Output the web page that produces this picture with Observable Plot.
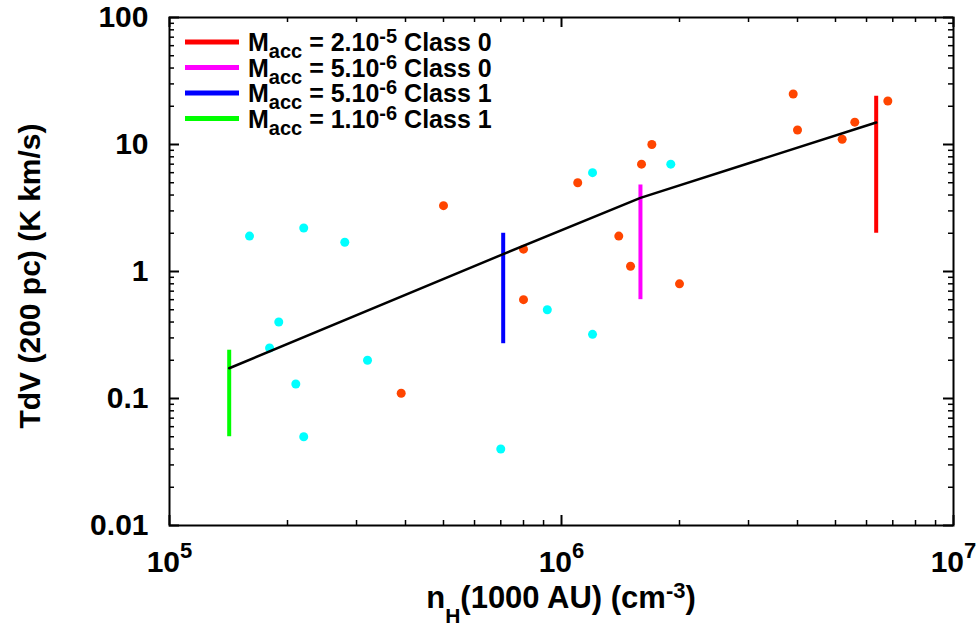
<!DOCTYPE html>
<html>
<head>
<meta charset="utf-8">
<script src="https://cdn.jsdelivr.net/npm/d3@7"></script>
<script src="https://cdn.jsdelivr.net/npm/@observablehq/plot@0.6"></script>
<style>
  body { margin: 0; background: #fff; }
  svg { display: block; }
  text, tspan { white-space: pre; }
</style>
</head>
<body>
<div id="chart"></div>
<script>
// ---- data ----
const cyanX = [1.6e5, 2.2e5, 2.8e5, 1.9e5, 1.8e5, 3.2e5, 2.1e5, 2.2e5, 7.0e5, 9.2e5, 1.2e6, 1.2e6, 1.9e6];
const cyanY = [1.9, 2.2, 1.7, 0.4, 0.25, 0.2, 0.13, 0.05, 0.04, 0.5, 0.32, 6, 7];

const orangeX = [5.0e5, 3.9e5, 8.0e5, 8.0e5, 1.1e6, 1.6e6, 1.7e6, 1.4e6, 1.5e6, 2.0e6, 3.9e6, 4.0e6, 5.2e6, 5.6e6, 6.8e6];
const orangeY = [3.3, 0.11, 1.5, 0.6, 5, 7, 10, 1.9, 1.1, 0.8, 25, 13, 11, 15, 22];

const modelX = [1.42e5, 7.1e5, 1.59e6, 6.35e6];
const modelY = [0.173, 1.37, 3.8, 14.9];

const barX = [6.35e6, 1.59e6, 7.1e5, 1.42e5];
const barLow = [2.0, 0.6, 0.27, 0.05];
const barHigh = [24, 4.8, 2.0, 0.24];
const barColor = ["#ff0000", "#ff00ff", "#0000ff", "#00ff00"];

const legendMacc = ["2.10", "5.10", "5.10", "1.10"];
const legendExp = ["-5", "-6", "-6", "-6"];
const legendClass = ["Class 0", "Class 0", "Class 1", "Class 1"];

const xTicks = [1e5, 1e6, 1e7];
const xTickExp = ["5", "6", "7"];
const yTicks = [0.01, 0.1, 1, 10, 100];
const yTickLabels = ["0.01", "0.1", "1", "10", "100"];
const minorMult = [2, 3, 4, 5, 6, 7, 8, 9];

// ---- tables ----
const cyan = cyanX.map((x, i) => ({x, y: cyanY[i]}));
const orange = orangeX.map((x, i) => ({x, y: orangeY[i]}));
const model = modelX.map((x, i) => ({x, y: modelY[i]}));
const bars = barX.map((x, i) => ({x, lo: barLow[i], hi: barHigh[i], col: barColor[i]}));
const xMinor = [1e5, 1e6].flatMap(d => minorMult.map(m => d * m));
const yMinor = [0.01, 0.1, 1, 10].flatMap(d => minorMult.map(m => d * m));

const W = 979, H = 626, mL = 169, mR = 26, mT = 17, mB = 101;
const pw = W - mL - mR, ph = H - mT - mB;
const FONT = "'Liberation Sans', Arial, Helvetica, sans-serif";

const tickStyle = {stroke: "black"};
const chart = Plot.plot({
  width: W, height: H,
  marginLeft: mL, marginRight: mR, marginTop: mT, marginBottom: mB,
  style: {fontFamily: FONT, fontWeight: "bold", fontSize: "30px", background: "white", overflow: "visible"},
  x: {type: "log", domain: [1e5, 1e7], axis: null},
  y: {type: "log", domain: [0.01, 100], axis: null},
  color: {type: "identity"},
  marks: [
    // inward ticks on all four sides
    Plot.ruleY(yTicks, {y: d => d, ...tickStyle, strokeWidth: 2, insetRight: pw - 10}),
    Plot.ruleY(yTicks, {y: d => d, ...tickStyle, strokeWidth: 2, insetLeft: pw - 10}),
    Plot.ruleY(yMinor, {y: d => d, ...tickStyle, strokeWidth: 1.5, insetRight: pw - 5}),
    Plot.ruleY(yMinor, {y: d => d, ...tickStyle, strokeWidth: 1.5, insetLeft: pw - 5}),
    Plot.ruleX(xTicks, {x: d => d, ...tickStyle, strokeWidth: 2, insetTop: ph - 10}),
    Plot.ruleX(xTicks, {x: d => d, ...tickStyle, strokeWidth: 2, insetBottom: ph - 10}),
    Plot.ruleX(xMinor, {x: d => d, ...tickStyle, strokeWidth: 1.5, insetTop: ph - 5}),
    Plot.ruleX(xMinor, {x: d => d, ...tickStyle, strokeWidth: 1.5, insetBottom: ph - 5}),
    // vertical range bars
    Plot.ruleX(bars, {x: "x", y1: "lo", y2: "hi", stroke: "col", strokeWidth: 4}),
    // observations
    Plot.dot(orange, {x: "x", y: "y", r: 4.5, fill: "#ff4500", stroke: "none"}),
    Plot.dot(cyan, {x: "x", y: "y", r: 4.5, fill: "#00ffff", stroke: "none"}),
    // model line
    Plot.line(model, {x: "x", y: "y", stroke: "black", strokeWidth: 2.5}),
    Plot.frame({stroke: "black", strokeWidth: 2}),
    Plot.axisY(yTicks, {anchor: "left", tickSize: 0, tickPadding: 21, label: null,
      tickFormat: d => yTickLabels[yTicks.indexOf(d)]}),
    Plot.axisX(xTicks, {anchor: "bottom", tickSize: 0, tickPadding: 25, label: null,
      tickFormat: d => "10^" + xTickExp[xTicks.indexOf(d)]})
  ]
});
document.getElementById("chart").appendChild(chart);

// superscripts in x tick labels
chart.querySelectorAll('[aria-label="x-axis tick label"] text').forEach(t => {
  const s = t.textContent;
  if (!s.includes("^")) return;
  const [base, exp] = s.split("^");
  t.textContent = "";
  const sel = d3.select(t);
  sel.append("tspan").text(base);
  sel.append("tspan").attr("font-size", 22).attr("dy", -14).text(exp);
});

const svg = d3.select(chart);

// legend
const leg = svg.append("g").attr("font-family", FONT).attr("font-weight", "bold").attr("font-size", 25)
  .attr("text-anchor", "start");
legendClass.forEach((cls, i) => {
  const yb = 51 + i * 25.5;
  leg.append("line").attr("x1", 185).attr("x2", 239).attr("y1", yb - 9).attr("y2", yb - 9)
    .attr("stroke", barColor[i]).attr("stroke-width", 5);
  const t = leg.append("text").attr("x", 248).attr("y", yb).attr("text-anchor", "start");
  t.append("tspan").text("M");
  t.append("tspan").attr("font-size", 20).attr("dy", 7).text("acc");
  t.append("tspan").attr("dy", -7).text(" = " + legendMacc[i]);
  t.append("tspan").attr("font-size", 20).attr("dy", -8).text(legendExp[i]);
  t.append("tspan").attr("dy", 8).text(" " + cls);
});

// x title
const xt = svg.append("text").attr("x", mL + pw / 2).attr("y", 608).attr("text-anchor", "middle")
  .attr("font-family", FONT).attr("font-weight", "bold").attr("font-size", 31);
xt.append("tspan").text("n");
xt.append("tspan").attr("font-size", 21).attr("dy", 15).text("H");
xt.append("tspan").attr("dy", -15).text("(1000 AU) (cm");
xt.append("tspan").attr("font-size", 22).attr("dy", -10).text("-3");
xt.append("tspan").attr("dy", 10).text(")");

// y title
svg.append("text").attr("transform", "translate(40,276) rotate(-90)").attr("text-anchor", "middle")
  .attr("font-family", FONT).attr("font-weight", "bold").attr("font-size", 30)
  .text("TdV (200 pc) (K km/s)");
</script>
</body>
</html>
